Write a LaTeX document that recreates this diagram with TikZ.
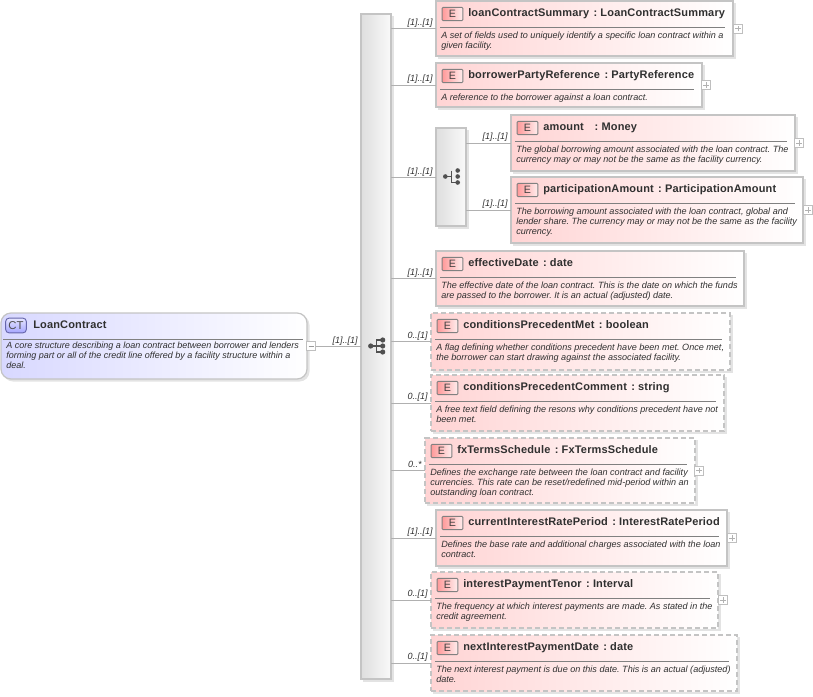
\documentclass[tikz,border=0pt]{standalone}
\usepackage{fontspec}
\setmainfont{Liberation Sans}
\newfontfamily\ttlfont[LetterSpace=1.5]{Liberation Sans}
\usetikzlibrary{calc}
\definecolor{bord}{HTML}{C4C4C4}
\definecolor{pinkl}{HTML}{FFD4D4}
\definecolor{pinkm}{HTML}{FFEEEE}
\definecolor{bluel}{HTML}{D8D8FF}
\definecolor{bluem}{HTML}{F0F0FF}
\definecolor{txt}{HTML}{303030}
\definecolor{conn}{HTML}{B0B0B0}
\definecolor{icn}{HTML}{505050}
\tikzset{
  x=0.75pt,y=-0.75pt,
  box/.style={draw=bord,line width=0.9pt,left color=pinkl,middle color=pinkm,right color=white,inner sep=0pt,outer sep=0pt,rectangle},
  solidbox/.style={box},
  dashbox/.style={box,dash pattern=on 4pt off 2pt},
  shad/.style={fill=black!11,draw=none},
  ttl/.style={font=\ttlfont\bfseries\fontsize{8.25}{10}\selectfont,text=txt,anchor=base west,inner sep=0pt},
  dsc/.style={font=\itshape\fontsize{6.8}{7.5}\selectfont,text=txt,anchor=north west,inner sep=0pt,align=left},
  card/.style={font=\itshape\fontsize{6.75}{8}\selectfont,text=txt,anchor=base east,inner sep=0pt},
  conline/.style={draw=conn,line width=0.75pt},
  ruleline/.style={draw=black!50,line width=0.6pt},
  eicon/.style={draw=black!50,line width=0.7pt,rounded corners=0.7pt,left color=red!40,right color=pinkm,inner sep=0pt,font=\fontsize{8}{8}\selectfont,text=black!75},
  pm/.style={draw=black!25,fill=white,line width=0.5pt,minimum size=6.5pt,inner sep=0pt,rectangle},
  comp/.style={draw=bord,line width=0.8pt,left color=black!13,right color=black!2,inner sep=0pt,outer sep=0pt,rectangle},
}
\newcommand\sep{\hspace{3.3pt}: }
% name, x1, y1, x2, y2, style, title, description
\newcommand\elem[8]{%
  \fill[shad] (#2+2,#3+2) rectangle (#4+2.5,#5+2.5);
  \node[#6,minimum width={(#4-#2)*0.75pt},minimum height={(#5-#3)*0.75pt}] (#1) at ({(#2+#4)/2},{(#3+#5)/2}) {};
  \node[eicon,minimum width=15.5pt,minimum height=10pt] (#1i) at (#2+16.5,#3+13) {E};
  \node[ttl] (#1t) at (#2+32,#3+15.2) {#7};
  \draw[ruleline] (#2+4,#3+26) -- (#4-8,#3+26);
  \node[dsc] (#1d) at (#2+5,#3+30.7) {#8};
}
\newcommand\seqbig[2]{%
  \fill[icn] (#1-5.3,#2) circle (2.6);
  \draw[icn,line width=0.9pt] (#1-5.3,#2) -- (#1+6.7,#2) (#1+6.7,#2-6) -- (#1+0.7,#2-6) -- (#1+0.7,#2+6) -- (#1+6.7,#2+6);
  \fill[icn] (#1+6.7,#2-6) circle (2.6) (#1+6.7,#2) circle (2.6) (#1+6.7,#2+6) circle (2.6);
}
\newcommand\seqsmall[2]{%
  \fill[icn] (#1-5.7,#2) circle (2.3);
  \draw[icn,line width=0.9pt] (#1-5.7,#2) -- (#1+0.7,#2) (#1+0.7,#2-6) -- (#1+0.7,#2+6) -- (#1+6.7,#2+6);
  \fill[icn] (#1+6.7,#2-6) circle (2.3) (#1+6.7,#2) circle (2.3) (#1+6.7,#2+6) circle (2.3);
}
\begin{document}
\frenchspacing
\begin{tikzpicture}
\useasboundingbox (0,0) rectangle (813,696);
% root
\fill[shad,rounded corners=7.5pt] (3,315) rectangle (309.5,381.5);
\node[draw=bord,line width=0.9pt,left color=bluel,middle color=bluem,right color=white,rounded corners=7.5pt,minimum width=229.5pt,minimum height=49.5pt,inner sep=0pt,outer sep=0pt] (root) at (154,346) {};
\node[draw=black!55!blue!60,line width=0.7pt,rounded corners=2.5pt,top color=blue!10,bottom color=blue!35,inner sep=0pt,minimum width=15.5pt,minimum height=11pt,font=\fontsize{8.5}{9}\selectfont,text=black!70] (rooti) at (16,325.5) {CT};
\node[ttl] (roott) at (33,328) {LoanContract};
\draw[ruleline] (3,339) -- (303,339);
\node[dsc,font=\itshape\fontsize{6.75}{7.5}\selectfont] (rootd) at (6,342) {A core structure describing a loan contract between borrower and lenders\\forming part or all of the credit line offered by a facility structure within a\\deal.};
\node[pm] (rootm) at (311,346) {};
\draw[black!40,line width=0.5pt] (308.5,346) -- (313.5,346);
% sequences
\fill[shad] (363,16) rectangle (393.5,681.5);
\node[comp,minimum width=22.5pt,minimum height=498.75pt] (seq) at (376,346.5) {};
\seqbig{376}{346}
\fill[shad] (438,130) rectangle (468.5,228.5);
\node[comp,minimum width=22.5pt,minimum height=73.5pt] (sub) at (451,177) {};
\seqsmall{451}{176.5}
% elements
\elem{a}{436}{1}{733}{56}{solidbox}{loanContractSummary\sep LoanContractSummary}{A set of fields used to uniquely identify a specific loan contract within a\\given facility.}
\elem{b}{436}{63}{702}{107}{solidbox}{borrowerPartyReference\sep PartyReference}{A reference to the borrower against a loan contract.}
\elem{c}{511}{115}{795}{171}{solidbox}{amount\ \ \sep Money}{The global borrowing amount associated with the loan contract. The\\currency may or may not be the same as the facility currency.}
\elem{d}{511}{177}{803}{243}{solidbox}{participationAmount\sep ParticipationAmount}{The borrowing amount associated with the loan contract, global and\\lender share. The currency may or may not be the same as the facility\\currency.}
\elem{e}{436}{251}{744}{306}{solidbox}{effectiveDate\sep date}{The effective date of the loan contract. This is the date on which the funds\\are passed to the borrower. It is an actual (adjusted) date.}
\elem{f}{431}{313}{730}{370}{dashbox}{conditionsPrecedentMet\sep boolean}{A flag defining whether conditions precedent have been met. Once met,\\the borrower can start drawing against the associated facility.}
\elem{g}{431}{375}{724}{431}{dashbox}{conditionsPrecedentComment\sep string}{A free text field defining the resons why conditions precedent have not\\been met.}
\elem{h}{425}{438}{695}{503}{dashbox}{fxTermsSchedule\sep FxTermsSchedule}{Defines the exchange rate between the loan contract and facility\\currencies. This rate can be reset/redefined mid-period within an\\outstanding loan contract.}
\elem{i}{436}{510}{727}{566}{solidbox}{currentInterestRatePeriod\sep InterestRatePeriod}{Defines the base rate and additional charges associated with the loan\\contract.}
\elem{j}{431}{572}{718}{628}{dashbox}{interestPaymentTenor\sep Interval}{The frequency at which interest payments are made. As stated in the\\credit agreement.}
\elem{k}{431}{635}{737}{691}{dashbox}{nextInterestPaymentDate\sep date}{The next interest payment is due on this date. This is an actual (adjusted)\\date.}
% connectors
\draw[conline] (rootm.east) -- (seq.west |- rootm.east);
\foreach \n/\w in {a/seq,b/seq,e/seq,f/seq,g/seq,h/seq,i/seq,j/seq,k/seq,c/sub,d/sub}{
  \draw[conline] (\w.east |- \n.west) -- (\n.west);
}
\draw[conline] (seq.east |- sub.west) -- (sub.west);
% cardinalities
\node[card] (l0) at (358,343) {[1]..[1]};
\foreach \n/\t/\lx in {a/[1]..[1]/433,b/[1]..[1]/433,e/[1]..[1]/433,f/0..[1]/428,g/0..[1]/428,h/0..*/422,i/[1]..[1]/433,j/0..[1]/428,k/0..[1]/428,c/[1]..[1]/508,d/[1]..[1]/508}{
  \node[card] (l\n) at ([yshift=2.5pt]\lx*0.75pt,0 |- \n.west) {\t};
}
\node[card] (ls) at (433,174) {[1]..[1]};
% expanders
\foreach \n/\px in {a/738,b/706,c/799,d/808,h/699,i/732,j/723}{
  \node[pm] (p\n) at (\px*0.75pt,0 |- \n.west) {};
  \draw[black!30,line width=0.5pt] ([xshift=-2.2pt]p\n.center) -- ([xshift=2.2pt]p\n.center) ([yshift=-2.2pt]p\n.center) -- ([yshift=2.2pt]p\n.center);
}
\end{tikzpicture}
\end{document}
